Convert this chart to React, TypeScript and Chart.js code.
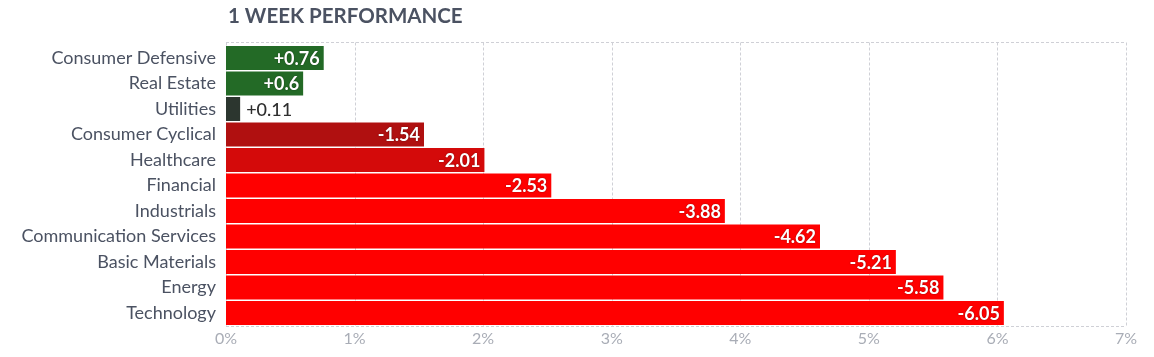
import React, { useEffect, useRef } from "react";
import { Chart, registerables } from "chart.js";

Chart.register(...registerables);

const categories = [
  "Consumer Defensive",
  "Real Estate",
  "Utilities",
  "Consumer Cyclical",
  "Healthcare",
  "Financial",
  "Industrials",
  "Communication Services",
  "Basic Materials",
  "Energy",
  "Technology",
];
const changes = [0.76, 0.6, 0.11, -1.54, -2.01, -2.53, -3.88, -4.62, -5.21, -5.58, -6.05];
const valueLabels = ["+0.76", "+0.6", "+0.11", "-1.54", "-2.01", "-2.53", "-3.88", "-4.62", "-5.21", "-5.58", "-6.05"];
const barColors = [
  "#236a26",
  "#236a26",
  "#2c362f",
  "#b01010",
  "#d40a0a",
  "#ff0000",
  "#ff0000",
  "#ff0000",
  "#ff0000",
  "#ff0000",
  "#ff0000",
];
const xTicks = [0, 1, 2, 3, 4, 5, 6, 7];
const titleText = "1 WEEK PERFORMANCE";

const FONT = "Lato, 'Noto Sans', sans-serif";
const GRID = "#cfd0d6";

export default function App() {
  const ref = useRef<HTMLCanvasElement | null>(null);

  useEffect(() => {
    document.body.style.margin = "0";
    const canvas = ref.current;
    if (!canvas) return;

    const framePlugin = {
      id: "frame",
      beforeDatasetsDraw(chart: any) {
        const { ctx, chartArea } = chart;
        const xs = chart.scales.x;
        const top = Math.floor(chartArea.top) - 3 + 0.5;
        const bottom = Math.round(chartArea.bottom) + 0.5;
        ctx.save();
        ctx.strokeStyle = GRID;
        ctx.lineWidth = 1;
        ctx.setLineDash([3, 2]);
        ctx.beginPath();
        ctx.moveTo(chartArea.left, top);
        ctx.lineTo(chartArea.right, top);
        ctx.moveTo(chartArea.left, bottom);
        ctx.lineTo(chartArea.right, bottom);
        xTicks.forEach((v) => {
          const px = Math.round(xs.getPixelForValue(v)) + 0.5;
          ctx.moveTo(px, top);
          ctx.lineTo(px, bottom);
        });
        ctx.stroke();
        ctx.restore();
      },
      afterDraw(chart: any) {
        const { ctx, chartArea } = chart;
        ctx.save();
        ctx.font = `bold 20.5px ${FONT}`;
        ctx.fillStyle = "#4b5262";
        ctx.textBaseline = "middle";
        ctx.textAlign = "left";
        ctx.fillText(titleText, chartArea.left + 2, 16);
        ctx.restore();
      },
    };

    const labelPlugin = {
      id: "valueLabels",
      afterDatasetsDraw(chart: any) {
        const { ctx } = chart;
        const meta = chart.getDatasetMeta(0);
        ctx.save();
        ctx.textBaseline = "middle";
        meta.data.forEach((bar: any, i: number) => {
          const text = valueLabels[i];
          const width = bar.x - bar.base;
          ctx.font = `bold 18px ${FONT}`;
          const tw = ctx.measureText(text).width;
          if (width > tw + 8) {
            ctx.textAlign = "right";
            ctx.fillStyle = "#ffffff";
            ctx.shadowColor = "rgba(0,0,0,0.5)";
            ctx.shadowBlur = 1.5;
            ctx.fillText(text, bar.x - 4, bar.y + 1);
            ctx.shadowBlur = 0;
            ctx.shadowColor = "transparent";
          } else {
            ctx.font = `500 18px ${FONT}`;
            ctx.textAlign = "left";
            ctx.fillStyle = "#2e2e2e";
            ctx.fillText(text, bar.x + 6, bar.y + 1);
          }
        });
        ctx.restore();
      },
    };

    const chart = new Chart(canvas, {
      type: "bar",
      data: {
        labels: categories,
        datasets: [
          {
            data: changes.map((v) => Math.abs(v)),
            backgroundColor: barColors,
            borderWidth: 0,
            barPercentage: 0.94,
            categoryPercentage: 1,
          },
        ],
      },
      options: {
        indexAxis: "y",
        animation: false,
        responsive: false,
        maintainAspectRatio: false,
        layout: { padding: { top: 45.25, right: 28, bottom: 0, left: 0 } },
        plugins: {
          legend: { display: false },
          title: { display: false },
          tooltip: { enabled: false },
        },
        scales: {
          x: {
            min: 0,
            max: 7,
            afterFit(scale: any) {
              scale.height = 31.25;
            },
            afterBuildTicks(scale: any) {
              scale.ticks = xTicks.map((v) => ({ value: v }));
            },
            ticks: {
              color: "#a9adb6",
              font: { family: FONT, size: 16 },
              padding: 3,
              callback: (v: any) => `${v}%`,
            },
            grid: { display: false, drawTicks: false },
            border: { display: false },
          },
          y: {
            afterFit(scale: any) {
              scale.width = 226;
            },
            ticks: {
              color: "#4b5262",
              font: { family: FONT, size: 18 },
              padding: 10,
            },
            grid: { display: false, drawTicks: false },
            border: { display: false },
          },
        },
      },
      plugins: [framePlugin, labelPlugin],
    });

    return () => chart.destroy();
  }, []);

  return (
    <div style={{ width: 1154, height: 357 }}>
      <canvas ref={ref} width={1154} height={357} style={{ display: "block" }} />
    </div>
  );
}
